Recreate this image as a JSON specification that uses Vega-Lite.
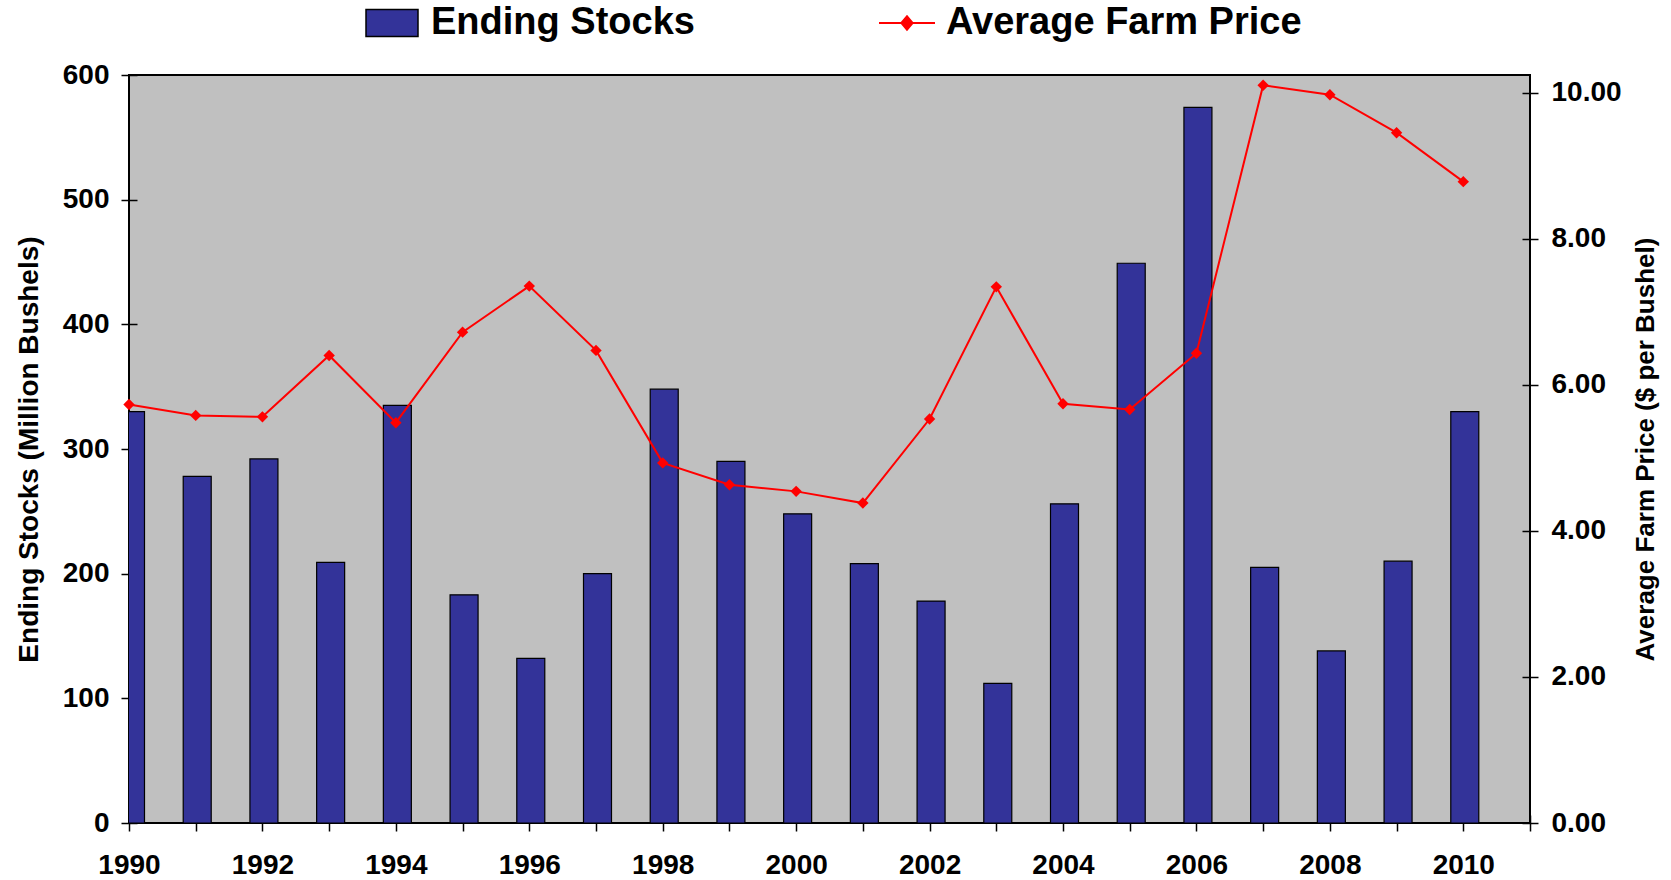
{
  "$schema": "https://vega.github.io/schema/vega-lite/v6.json",
  "width": 1401,
  "height": 748,
  "autosize": {"type": "none"},
  "padding": {"left": 129, "top": 75, "right": 141, "bottom": 57},
  "background": "white",
  "config": {
    "view": {"fill": "#C0C0C0", "stroke": "black", "strokeWidth": 2},
    "font": "Liberation Sans",
    "axis": {
      "labelFont": "Liberation Sans",
      "labelFontSize": 28,
      "labelFontWeight": "bold",
      "labelColor": "black",
      "titleFont": "Liberation Sans",
      "titleFontWeight": "bold",
      "titleColor": "black",
      "tickColor": "black",
      "tickWidth": 1.5,
      "grid": false,
      "domain": false,
      "offset": -8,
      "tickSize": 16,
      "labelOverlap": false,
      "labelFlush": false
    }
  },
  "data": {
    "values": [
      {"year": 1990, "stocks": 330, "price": 5.73},
      {"year": 1991, "stocks": 278, "price": 5.58},
      {"year": 1992, "stocks": 292, "price": 5.56},
      {"year": 1993, "stocks": 209, "price": 6.40},
      {"year": 1994, "stocks": 335, "price": 5.48},
      {"year": 1995, "stocks": 183, "price": 6.72},
      {"year": 1996, "stocks": 132, "price": 7.35},
      {"year": 1997, "stocks": 200, "price": 6.47},
      {"year": 1998, "stocks": 348, "price": 4.93},
      {"year": 1999, "stocks": 290, "price": 4.63},
      {"year": 2000, "stocks": 248, "price": 4.54},
      {"year": 2001, "stocks": 208, "price": 4.38},
      {"year": 2002, "stocks": 178, "price": 5.53},
      {"year": 2003, "stocks": 112, "price": 7.34},
      {"year": 2004, "stocks": 256, "price": 5.74},
      {"year": 2005, "stocks": 449, "price": 5.66},
      {"year": 2006, "stocks": 574, "price": 6.43},
      {"year": 2007, "stocks": 205, "price": 10.10},
      {"year": 2008, "stocks": 138, "price": 9.97},
      {"year": 2009, "stocks": 210, "price": 9.45},
      {"year": 2010, "stocks": 330, "price": 8.78}
    ]
  },
  "layer": [
    {
      "mark": {"type": "bar", "width": 28, "xOffset": 1.5, "stroke": "black", "strokeWidth": 1.2, "clip": true},
      "encoding": {
        "x": {
          "field": "year",
          "type": "quantitative",
          "scale": {"domain": [1990, 2011], "nice": false, "zero": false, "padding": 0},
          "axis": {
            "title": null,
            "format": "d",
            "values": [1990, 1991, 1992, 1993, 1994, 1995, 1996, 1997, 1998, 1999, 2000, 2001, 2002, 2003, 2004, 2005, 2006, 2007, 2008, 2009, 2010, 2011],
            "labelExpr": "datum.value % 2 == 0 && datum.value < 2011 ? datum.label : ''",
            "labelPadding": 20
          }
        },
        "y": {
          "field": "stocks",
          "type": "quantitative",
          "scale": {"domain": [0, 600], "nice": false},
          "axis": {
            "title": "Ending Stocks (Million Bushels)",
            "titleFontSize": 28,
            "values": [0, 100, 200, 300, 400, 500, 600],
            "labelPadding": 12,
            "titlePadding": 19
          }
        },
        "fill": {
          "datum": "Ending Stocks",
          "type": "nominal",
          "scale": {"range": ["#333399"]},
          "legend": {
            "orient": "none",
            "legendX": 236,
            "legendY": -79,
            "title": null,
            "padding": 0,
            "symbolType": "M-1,-0.52H1V0.52H-1Z",
            "symbolSize": 2704,
            "symbolStrokeColor": "black",
            "symbolStrokeWidth": 1.5,
            "symbolOpacity": 1,
            "labelFont": "Liberation Sans",
            "labelFontSize": 38,
            "labelFontWeight": "bold",
            "labelColor": "black",
            "labelOffset": 12,
            "labelLimit": 600
          }
        }
      }
    },
    {
      "encoding": {
        "x": {"field": "year", "type": "quantitative"},
        "y": {
          "field": "price",
          "type": "quantitative",
          "scale": {"domain": [0, 10.24], "nice": false},
          "axis": {
            "orient": "right",
            "title": "Average Farm Price ($ per Bushel)",
            "titleFontSize": 26,
            "titleAngle": 270,
            "titleBaseline": "top",
            "values": [0, 2, 4, 6, 8, 10],
            "format": ".2f",
            "labelPadding": 13,
            "titlePadding": 11
          }
        }
      },
      "layer": [
        {
          "mark": {"type": "line", "strokeWidth": 2},
          "encoding": {
            "stroke": {
              "datum": "Average Farm Price",
              "type": "nominal",
              "scale": {"range": ["#FF0000"]},
              "legend": {
                "orient": "none",
                "legendX": 749,
                "legendY": -81,
                "title": null,
                "padding": 0,
                "symbolType": "M-1,0H1M-0.2,0L0,-0.24L0.2,0L0,0.24Z",
                "symbolSize": 3136,
                "symbolStrokeWidth": 2,
                "symbolFillColor": "#FF0000",
                "symbolOpacity": 1,
                "labelFont": "Liberation Sans",
                "labelFontSize": 38,
                "labelFontWeight": "bold",
                "labelColor": "black",
                "labelOffset": 10,
                "labelLimit": 600
              }
            }
          }
        },
        {
          "mark": {"type": "point", "shape": "diamond", "filled": true, "size": 130, "color": "#FF0000", "opacity": 1}
        }
      ]
    }
  ],
  "resolve": {"scale": {"y": "independent"}}
}
